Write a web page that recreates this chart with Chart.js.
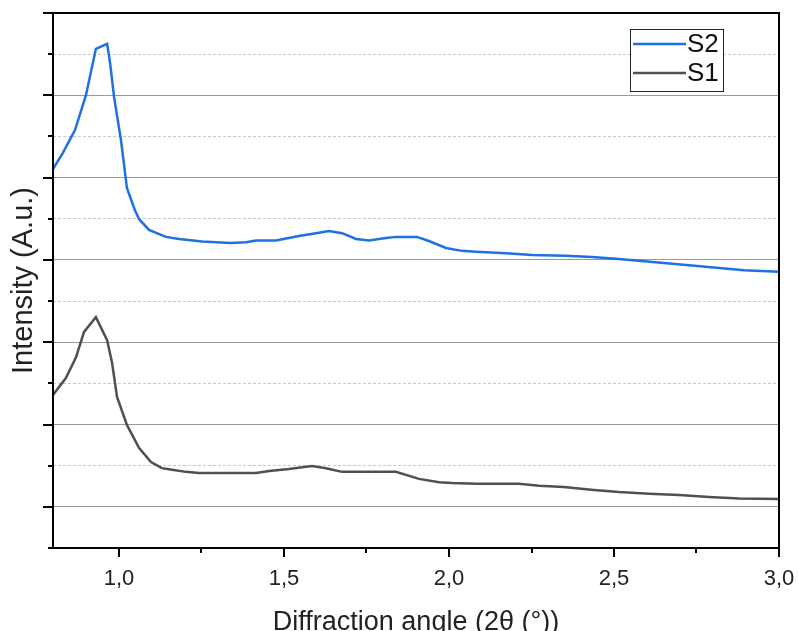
<!DOCTYPE html>
<html>
<head>
<meta charset="utf-8">
<script src="https://cdn.jsdelivr.net/npm/chart.js@4"></script>
<style>
    body { margin: 0; background: #fff; }
    #wrap { width: 798px; height: 631px; }
</style>
</head>
<body>
<div id="wrap"><canvas id="xrd-chart" width="798" height="631"></canvas></div>
<script>
// diffraction angle (2θ, degrees) and intensity (arbitrary units)
const s2Angle = [0.80, 0.83, 0.867, 0.90, 0.93, 0.964, 0.973, 0.985, 1.006, 1.024, 1.048, 1.061, 1.091, 1.142, 1.182, 1.252, 1.339, 1.385, 1.415, 1.476, 1.545, 1.597, 1.636, 1.676, 1.718, 1.758, 1.773, 1.809, 1.839, 1.903, 1.939, 1.991, 2.039, 2.082, 2.173, 2.252, 2.352, 2.433, 2.515, 2.60, 2.685, 2.794, 2.894, 3.0];
const s2Intensity = [9.21, 9.60, 10.16, 11.01, 12.13, 12.25, 11.79, 10.96, 9.91, 8.75, 8.21, 7.99, 7.73, 7.56, 7.51, 7.45, 7.41, 7.43, 7.47, 7.47, 7.58, 7.65, 7.70, 7.65, 7.51, 7.47, 7.49, 7.53, 7.56, 7.56, 7.46, 7.29, 7.22, 7.20, 7.16, 7.12, 7.10, 7.07, 7.02, 6.96, 6.90, 6.82, 6.75, 6.71];

const s1Angle = [0.80, 0.839, 0.87, 0.894, 0.93, 0.964, 0.979, 0.994, 1.024, 1.061, 1.097, 1.13, 1.161, 1.203, 1.242, 1.415, 1.455, 1.515, 1.561, 1.585, 1.627, 1.676, 1.839, 1.909, 1.97, 2.009, 2.082, 2.212, 2.273, 2.348, 2.439, 2.515, 2.606, 2.697, 2.788, 2.879, 3.0];
const s1Intensity = [3.72, 4.13, 4.64, 5.25, 5.61, 5.05, 4.50, 3.67, 2.99, 2.43, 2.09, 1.94, 1.90, 1.85, 1.82, 1.82, 1.87, 1.92, 1.97, 1.99, 1.94, 1.85, 1.85, 1.68, 1.60, 1.58, 1.56, 1.56, 1.51, 1.48, 1.41, 1.36, 1.32, 1.29, 1.24, 1.20, 1.19];

const xTickValues = [1.0, 1.25, 1.5, 1.75, 2.0, 2.25, 2.5, 2.75, 3.0];
const xTickLabels = ['1,0', '', '1,5', '', '2,0', '', '2,5', '', '3,0'];
const yTickValues = [0, 1, 2, 3, 4, 5, 6, 7, 8, 9, 10, 11, 12, 13];

const FONT = '"Liberation Sans", Arial, sans-serif';

function toPoints(xs, ys) {
    return xs.map(function(x, i) { return { x: x, y: ys[i] }; });
}

// frame, outward tick marks and the boxed legend
const framePlugin = {
    id: 'frame',
    afterDraw: function(chart) {
        const ctx = chart.ctx;
        const area = chart.chartArea;
        const xs = chart.scales.x;
        const ys = chart.scales.y;
        ctx.save();
        ctx.strokeStyle = '#000';
        ctx.lineWidth = 2;
        ctx.strokeRect(area.left, area.top, area.right - area.left, area.bottom - area.top);

        ctx.beginPath();
        xTickValues.forEach(function(v, i) {
            const px = Math.round(xs.getPixelForValue(v));
            const len = xTickLabels[i] ? 9 : 5;
            ctx.moveTo(px, area.bottom);
            ctx.lineTo(px, area.bottom + len);
        });
        yTickValues.forEach(function(v) {
            const py = Math.round(ys.getPixelForValue(v));
            const len = v % 2 === 1 ? 10 : 5;
            ctx.moveTo(area.left, py);
            ctx.lineTo(area.left - len, py);
        });
        ctx.stroke();

        // legend box
        const bx = 630, by = 29, bw = 93, bh = 62;
        ctx.fillStyle = '#fff';
        ctx.fillRect(bx, by, bw, bh);
        ctx.lineWidth = 1;
        ctx.strokeStyle = '#222';
        ctx.strokeRect(bx + 0.5, by + 0.5, bw, bh);
        ctx.font = '26px ' + FONT;
        ctx.textBaseline = 'middle';
        chart.data.datasets.forEach(function(ds, i) {
            const ly = by + 15 + i * 29;
            ctx.strokeStyle = ds.borderColor;
            ctx.lineWidth = 2.5;
            ctx.beginPath();
            ctx.moveTo(bx + 3, ly);
            ctx.lineTo(bx + 56, ly);
            ctx.stroke();
            ctx.fillStyle = '#111';
            ctx.fillText(ds.label, bx + 57, ly + 1);
        });
        ctx.restore();
    }
};

const ctx = document.getElementById('xrd-chart').getContext('2d');
const chart = new Chart(ctx, {
    type: 'line',
    data: {
        datasets: [{
            label: 'S2',
            data: toPoints(s2Angle, s2Intensity),
            borderColor: '#1f70e3',
            borderWidth: 2.5,
            pointRadius: 0,
            tension: 0,
            fill: false
        }, {
            label: 'S1',
            data: toPoints(s1Angle, s1Intensity),
            borderColor: '#505050',
            borderWidth: 2.5,
            pointRadius: 0,
            tension: 0,
            fill: false
        }]
    },
    options: {
        responsive: false,
        animation: false,
        layout: { padding: { top: 13, right: 19, left: 0, bottom: 0 } },
        plugins: {
            legend: { display: false },
            tooltip: { enabled: false }
        },
        scales: {
            x: {
                type: 'linear',
                min: 0.8,
                max: 3.0,
                afterBuildTicks: function(scale) {
                    scale.ticks = xTickValues.map(function(v) { return { value: v }; });
                },
                afterFit: function(scale) {
                    scale.height = 83;
                    scale.paddingLeft = 0;
                    scale.paddingRight = 0;
                },
                grid: { display: false, drawTicks: false },
                border: { display: false },
                ticks: {
                    autoSkip: false,
                    maxRotation: 0,
                    padding: 18,
                    color: '#222',
                    font: { family: FONT, size: 22 },
                    callback: function(value, index) { return xTickLabels[index]; }
                },
                title: {
                    display: true,
                    text: 'Diffraction angle (2θ (°))',
                    color: '#222',
                    font: { family: FONT, size: 27, lineHeight: 0.6 },
                    padding: { top: 0, bottom: 0 }
                }
            },
            y: {
                min: 0,
                max: 13,
                afterBuildTicks: function(scale) {
                    scale.ticks = yTickValues.map(function(v) { return { value: v }; });
                },
                afterFit: function(scale) { scale.width = 53; },
                grid: {
                    drawTicks: false,
                    tickLength: 0,
                    lineWidth: 1,
                    color: function(c) {
                        if (!c.tick) return '#999';
                        return c.tick.value % 2 === 1 ? '#9a9a9a' : '#c8c8c8';
                    }
                },
                border: {
                    display: false,
                    dash: function(c) {
                        if (!c.tick) return [];
                        return c.tick.value % 2 === 1 ? [] : [3, 2];
                    }
                },
                ticks: { display: false },
                title: {
                    display: true,
                    text: 'Intensity (A.u.)',
                    color: '#222',
                    font: { family: FONT, size: 29, lineHeight: 1.2 },
                    padding: { top: 7, bottom: 0 }
                }
            }
        }
    },
    plugins: [framePlugin]
});
</script>
</body>
</html>
